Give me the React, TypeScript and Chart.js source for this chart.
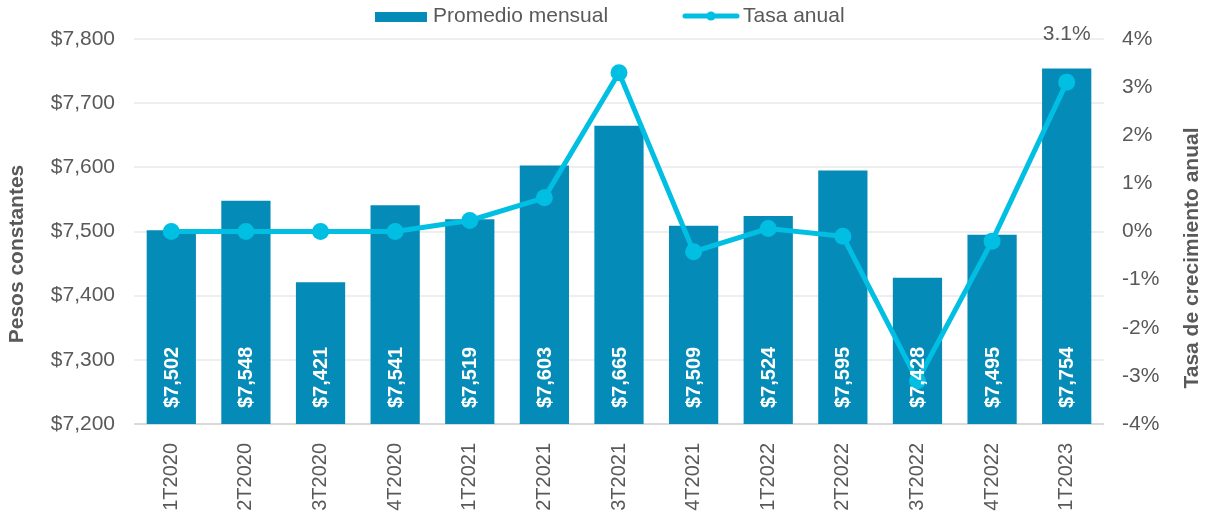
import React, { useEffect, useRef } from "react";
import { Chart, registerables } from "chart.js";

Chart.register(...registerables);

const categories = ["1T2020", "2T2020", "3T2020", "4T2020", "1T2021", "2T2021", "3T2021", "4T2021", "1T2022", "2T2022", "3T2022", "4T2022", "1T2023"];
const promedioMensual = [7502, 7548, 7421, 7541, 7519, 7603, 7665, 7509, 7524, 7595, 7428, 7495, 7754];
const tasaAnual = [0, 0, 0, 0, 0.23, 0.7, 3.3, -0.42, 0.06, -0.1, -3.1, -0.2, 3.1];
const lastLabel = "3.1%";
const seriesNames = ["Promedio mensual", "Tasa anual"];
const axisTitles = ["Pesos constantes", "Tasa de crecimiento anual"];

const BAR = "#058bb8";
const LINE = "#00bfe2";
const TEXT = "#595959";
const FONT = "'Liberation Sans', Arial, sans-serif";

const fmtMoney = (v: number) => "$" + v.toLocaleString("en-US");

const overlay = {
  id: "overlay",
  afterDatasetsDraw(chart: any) {
    const ctx = chart.ctx as CanvasRenderingContext2D;
    const ca = chart.chartArea;
    const barMeta = chart.getDatasetMeta(0);
    ctx.save();
    ctx.fillStyle = "#ffffff";
    ctx.font = `bold 20px ${FONT}`;
    ctx.textAlign = "left";
    ctx.textBaseline = "middle";
    barMeta.data.forEach((el: any, i: number) => {
      ctx.save();
      ctx.translate(el.x, ca.bottom - 16);
      ctx.rotate(-Math.PI / 2);
      ctx.fillText(fmtMoney(promedioMensual[i]), 0, 1);
      ctx.restore();
    });
    ctx.restore();
    const lineMeta = chart.getDatasetMeta(1);
    const last = lineMeta.data[lineMeta.data.length - 1];
    ctx.save();
    ctx.fillStyle = TEXT;
    ctx.font = `21px ${FONT}`;
    ctx.textAlign = "center";
    ctx.textBaseline = "middle";
    ctx.fillText(lastLabel, last.x, last.y - 48);
    ctx.restore();
  },
  afterDraw(chart: any) {
    const ctx = chart.ctx as CanvasRenderingContext2D;
    ctx.save();
    ctx.fillStyle = TEXT;
    ctx.font = `bold 21px ${FONT}`;
    ctx.textAlign = "center";
    ctx.textBaseline = "middle";
    ctx.save();
    ctx.translate(17, 254);
    ctx.rotate(-Math.PI / 2);
    ctx.fillText(axisTitles[0], 0, 0);
    ctx.restore();
    ctx.save();
    ctx.translate(1192, 258);
    ctx.rotate(-Math.PI / 2);
    ctx.fillText(axisTitles[1], 0, 0);
    ctx.restore();
    // legend
    ctx.fillStyle = BAR;
    ctx.fillRect(375, 12, 52, 10);
    ctx.fillStyle = TEXT;
    ctx.font = `21px ${FONT}`;
    ctx.textAlign = "left";
    ctx.fillText(seriesNames[0], 433, 16);
    ctx.strokeStyle = LINE;
    ctx.lineWidth = 5;
    ctx.lineCap = "round";
    ctx.beginPath();
    ctx.moveTo(685, 16);
    ctx.lineTo(737, 16);
    ctx.stroke();
    ctx.fillStyle = LINE;
    ctx.beginPath();
    ctx.arc(711, 16, 4.5, 0, Math.PI * 2);
    ctx.fill();
    ctx.fillStyle = TEXT;
    ctx.fillText(seriesNames[1], 743, 16);
    ctx.restore();
  },
};

export default function App() {
  const ref = useRef<HTMLCanvasElement | null>(null);
  useEffect(() => {
    if (!ref.current) return;
    const chart = new Chart(ref.current, {
      type: "bar",
      data: {
        labels: categories,
        datasets: [
          {
            type: "bar",
            label: seriesNames[0],
            data: promedioMensual,
            backgroundColor: BAR,
            borderWidth: 0,
            barPercentage: 1,
            categoryPercentage: 0.66,
            yAxisID: "y",
            order: 2,
          },
          {
            type: "line",
            label: seriesNames[1],
            data: tasaAnual,
            borderColor: LINE,
            backgroundColor: LINE,
            borderWidth: 5,
            pointRadius: 8.5,
            pointBackgroundColor: LINE,
            pointBorderWidth: 0,
            tension: 0,
            yAxisID: "y1",
            order: 1,
          } as any,
        ],
      },
      options: {
        animation: false,
        responsive: false,
        maintainAspectRatio: false,
        layout: { padding: { top: 39, left: 0, right: 0, bottom: 0 } },
        plugins: { legend: { display: false }, tooltip: { enabled: false } },
        scales: {
          x: {
            grid: { display: false },
            border: { display: false },
            ticks: {
              color: TEXT,
              font: { size: 20, family: FONT },
              minRotation: 90,
              maxRotation: 90,
              autoSkip: false,
              padding: 11,
            },
            afterFit: (s: any) => {
              s.height = 88;
            },
          },
          y: {
            position: "left",
            min: 7200,
            max: 7800,
            ticks: {
              stepSize: 100,
              color: TEXT,
              font: { size: 21, family: FONT },
              padding: 19,
              callback: (v: any) => fmtMoney(Number(v)),
            },
            grid: {
              drawTicks: false,
              lineWidth: 2,
              color: (c: any) => (c.tick && c.tick.value === 7200 ? "#d9d9d9" : "#eeeeee"),
            },
            border: { display: false },
            afterFit: (s: any) => {
              s.width = 134;
            },
          },
          y1: {
            position: "right",
            min: -4,
            max: 4,
            ticks: {
              stepSize: 1,
              color: TEXT,
              font: { size: 21, family: FONT },
              padding: 18,
              callback: (v: any) => `${v}%`,
            },
            grid: { display: false, drawTicks: false },
            border: { display: false },
            afterFit: (s: any) => {
              s.width = 108;
            },
          },
        },
      },
      plugins: [overlay],
    });
    return () => chart.destroy();
  }, []);
  return (
    <div style={{ position: "absolute", left: 0, top: 0, width: 1212, height: 512, background: "#fff" }}>
      <canvas ref={ref} width={1212} height={512} style={{ width: 1212, height: 512 }} />
    </div>
  );
}
